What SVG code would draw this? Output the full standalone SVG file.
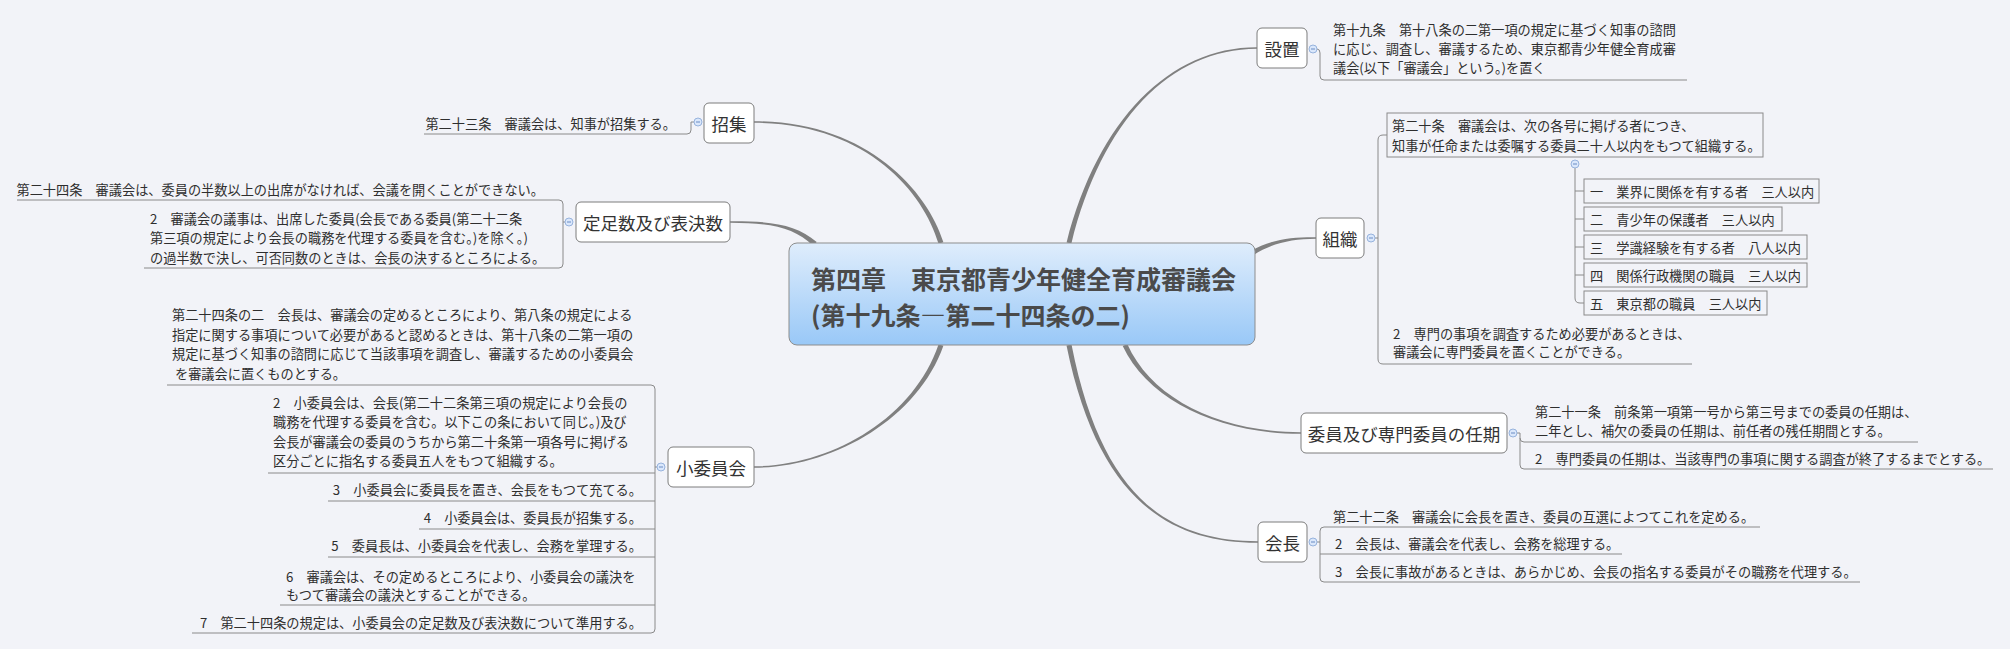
<svg xmlns="http://www.w3.org/2000/svg" width="2010" height="649" viewBox="0 0 2010 649">
<defs>
<linearGradient id="cg" x1="0" y1="0" x2="0" y2="1">
<stop offset="0" stop-color="#dfedfc"/>
<stop offset="1" stop-color="#99c8f7"/>
</linearGradient>
<style>
text{font-family:"Noto Sans CJK JP","Noto Sans CJK SC",sans-serif;dominant-baseline:central}
.lf{font-size:13.2px;fill:#2e2e2e}
.tp{font-size:17.5px;fill:#333;text-anchor:middle}
.ct{font-size:25px;font-weight:bold;fill:#4a4a4a}
.e{text-anchor:end}
.ln{fill:none;stroke:#8a8a8a;stroke-width:1}
.bx{fill:#fff;stroke:#7c7c7c;stroke-width:1}
.ib{fill:none;stroke:#8a8a8a;stroke-width:1}
.br{fill:#808080}
.cc{fill:#dae7fb;stroke:#97b3dd;stroke-width:1}
.cm{stroke:#6a8cc4;stroke-width:1}
</style>
</defs>
<rect width="2010" height="649" fill="#f2f3f8"/>

<g id="connectors">
<path class="br" d="M1071.4,243.6 C1101.9,120.5 1170,49 1257,48.75 L1257,47.25 C1170,47 1098.1,119.5 1066.6,242.4 Z"/>
<path class="br" d="M943.4,242.3 C926.9,189.4 865,121 754,121.25 L754,122.75 C865,123 923.1,190.6 938.6,243.7 Z"/>
<path class="br" d="M816.7,242.1 C796.3,224.5 772,221 730,221.25 L730,222.75 C772,223 793.7,227.5 813.3,245.9 Z"/>
<path class="br" d="M938.6,344.2 C913.1,419.3 830,466 754,466.25 L754,467.75 C830,468 916.9,420.7 943.4,345.8 Z"/>
<path class="br" d="M1066.5,345.5 C1098,500.4 1170,543 1258,542.75 L1258,541.25 C1170,541 1102,499.6 1071.5,344.5 Z"/>
<path class="br" d="M1122.7,346 C1148.2,400.8 1220,434 1301,433.75 L1301,432.25 C1220,432 1151.8,399.2 1127.3,344 Z"/>
<path class="br" d="M1253.3,255.2 C1273,242.7 1292,239 1316,238.75 L1316,237.25 C1292,237 1271,239.3 1250.7,250.9 Z"/>

<path class="ln" d="M1317,49 Q1320,49 1320,53 V76 Q1320,80 1324,80 H1687"/>
<path class="ln" d="M1387,135 H1383 Q1378,135 1378,140 V359 Q1378,364 1383,364 H1692 M1375,238 H1378"/>
<path class="ln" d="M1575,168 V298 Q1575,303 1580,303 H1584 M1575,191 H1584 M1575,219 H1584 M1575,247 H1584 M1575,275 H1584"/>
<path class="ln" d="M1517,433 H1520 V465 Q1520,469 1524,469 H1993 M1520,438 Q1520,442 1524,442 H1918"/>
<path class="ln" d="M1760,527 H1324 Q1320,527 1320,531 V578 Q1320,582 1324,582 H1860 M1320,554 H1622 M1317,542 H1320"/>
<path class="ln" d="M694,122 H691 V130 Q691,134 687,134 H424"/>
<path class="ln" d="M17,200 H559 Q563,200 563,204 V264 Q563,268 559,268 H144 M565,222 H563"/>
<path class="ln" d="M167,385 H651 Q655,385 655,389 V629 Q655,633 651,633 H192 M655,473 H268 M655,501 H328 M655,529 H419 M655,557 H328 M655,605 H280 M657,467 H655"/>
</g>

<g id="central">
<rect x="789" y="243" width="466" height="102" rx="8" fill="url(#cg)" stroke="#8d8d8d" stroke-width="1"/>
<text class="ct" x="811" y="277.5">第四章　東京都青少年健全育成審議会</text>
<text class="ct" x="811" y="313.5">(第十九条―第二十四条の二)</text>
</g>

<g id="setchi">
<rect class="bx" x="1257" y="28" width="50" height="40" rx="5"/>
<text class="tp" x="1282" y="48">設置</text>
<circle class="cc" cx="1313" cy="49" r="4"/><path class="cm" d="M1311,49 H1315"/>
<text class="lf" x="1333" y="29.5">第十九条　第十八条の二第一項の規定に基づく知事の諮問</text>
<text class="lf" x="1333" y="48.5">に応じ、調査し、審議するため、東京都青少年健全育成審</text>
<text class="lf" x="1333" y="67.5">議会(以下「審議会」という。)を置く</text>
</g>

<g id="soshiki">
<rect class="bx" x="1316" y="218" width="48" height="40" rx="5"/>
<text class="tp" x="1340" y="238">組織</text>
<circle class="cc" cx="1371" cy="238" r="4"/><path class="cm" d="M1369,238 H1373"/>
<rect class="ib" x="1387" y="113" width="376" height="44"/>
<text class="lf" x="1392" y="125.5">第二十条　審議会は、次の各号に掲げる者につき、</text>
<text class="lf" x="1392" y="145.5">知事が任命または委嘱する委員二十人以内をもつて組織する。</text>
<circle class="cc" cx="1575" cy="164" r="4"/><path class="cm" d="M1573,164 H1577"/>
<rect class="ib" x="1584" y="179" width="235" height="24"/>
<text class="lf" x="1590" y="191">一　業界に関係を有する者　三人以内</text>
<rect class="ib" x="1584" y="207" width="198" height="24"/>
<text class="lf" x="1590" y="219">二　青少年の保護者　三人以内</text>
<rect class="ib" x="1584" y="235" width="223" height="24"/>
<text class="lf" x="1590" y="247">三　学識経験を有する者　八人以内</text>
<rect class="ib" x="1584" y="263" width="223" height="24"/>
<text class="lf" x="1590" y="275">四　関係行政機関の職員　三人以内</text>
<rect class="ib" x="1584" y="291" width="183" height="24"/>
<text class="lf" x="1590" y="303">五　東京都の職員　三人以内</text>
<text class="lf" x="1393" y="333">2　専門の事項を調査するため必要があるときは、</text>
<text class="lf" x="1393" y="351.5">審議会に専門委員を置くことができる。</text>
</g>

<g id="ninki">
<rect class="bx" x="1301" y="413" width="206" height="40" rx="5"/>
<text class="tp" x="1404" y="433">委員及び専門委員の任期</text>
<circle class="cc" cx="1513" cy="433" r="4"/><path class="cm" d="M1511,433 H1515"/>
<text class="lf" x="1535" y="411">第二十一条　前条第一項第一号から第三号までの委員の任期は、</text>
<text class="lf" x="1535" y="430">二年とし、補欠の委員の任期は、前任者の残任期間とする。</text>
<text class="lf" x="1535" y="458">2　専門委員の任期は、当該専門の事項に関する調査が終了するまでとする。</text>
</g>

<g id="kaicho">
<rect class="bx" x="1258" y="522" width="49" height="40" rx="5"/>
<text class="tp" x="1282.5" y="542">会長</text>
<circle class="cc" cx="1313" cy="542" r="4"/><path class="cm" d="M1311,542 H1315"/>
<text class="lf" x="1333" y="516">第二十二条　審議会に会長を置き、委員の互選によつてこれを定める。</text>
<text class="lf" x="1335" y="543">2　会長は、審議会を代表し、会務を総理する。</text>
<text class="lf" x="1335" y="571">3　会長に事故があるときは、あらかじめ、会長の指名する委員がその職務を代理する。</text>
</g>

<g id="shoshu">
<rect class="bx" x="704" y="103" width="50" height="40" rx="5"/>
<text class="tp" x="729" y="123">招集</text>
<circle class="cc" cx="698" cy="122" r="4"/><path class="cm" d="M696,122 H700"/>
<text class="lf e" x="676" y="123">第二十三条　審議会は、知事が招集する。</text>
</g>

<g id="teisoku">
<rect class="bx" x="576" y="202" width="154" height="40" rx="5"/>
<text class="tp" x="653" y="222">定足数及び表決数</text>
<circle class="cc" cx="569" cy="222" r="4"/><path class="cm" d="M567,222 H571"/>
<text class="lf e" x="544" y="189">第二十四条　審議会は、委員の半数以上の出席がなければ、会議を開くことができない。</text>
<text class="lf" x="150" y="218">2　審議会の議事は、出席した委員(会長である委員(第二十二条</text>
<text class="lf" x="150" y="237.5">第三項の規定により会長の職務を代理する委員を含む。)を除く。)</text>
<text class="lf" x="150" y="257">の過半数で決し、可否同数のときは、会長の決するところによる。</text>
</g>

<g id="shoiinkai">
<rect class="bx" x="668" y="447" width="86" height="40" rx="5"/>
<text class="tp" x="711" y="467">小委員会</text>
<circle class="cc" cx="661" cy="467" r="4"/><path class="cm" d="M659,467 H663"/>
<text class="lf" x="172" y="314.5">第二十四条の二　会長は、審議会の定めるところにより、第八条の規定による</text>
<text class="lf" x="172" y="334">指定に関する事項について必要があると認めるときは、第十八条の二第一項の</text>
<text class="lf" x="172" y="353.5">規定に基づく知事の諮問に応じて当該事項を調査し、審議するための小委員会</text>
<text class="lf" x="175" y="373">を審議会に置くものとする。</text>
<text class="lf" x="273" y="402">2　小委員会は、会長(第二十二条第三項の規定により会長の</text>
<text class="lf" x="273" y="421.5">職務を代理する委員を含む。以下この条において同じ。)及び</text>
<text class="lf" x="273" y="441">会長が審議会の委員のうちから第二十条第一項各号に掲げる</text>
<text class="lf" x="273" y="460.5">区分ごとに指名する委員五人をもつて組織する。</text>
<text class="lf e" x="642" y="489">3　小委員会に委員長を置き、会長をもつて充てる。</text>
<text class="lf e" x="642" y="517">4　小委員会は、委員長が招集する。</text>
<text class="lf e" x="642" y="545.5">5　委員長は、小委員会を代表し、会務を掌理する。</text>
<text class="lf" x="286" y="576">6　審議会は、その定めるところにより、小委員会の議決を</text>
<text class="lf" x="286" y="594.5">もつて審議会の議決とすることができる。</text>
<text class="lf e" x="642" y="622">7　第二十四条の規定は、小委員会の定足数及び表決数について準用する。</text>
</g>
</svg>
